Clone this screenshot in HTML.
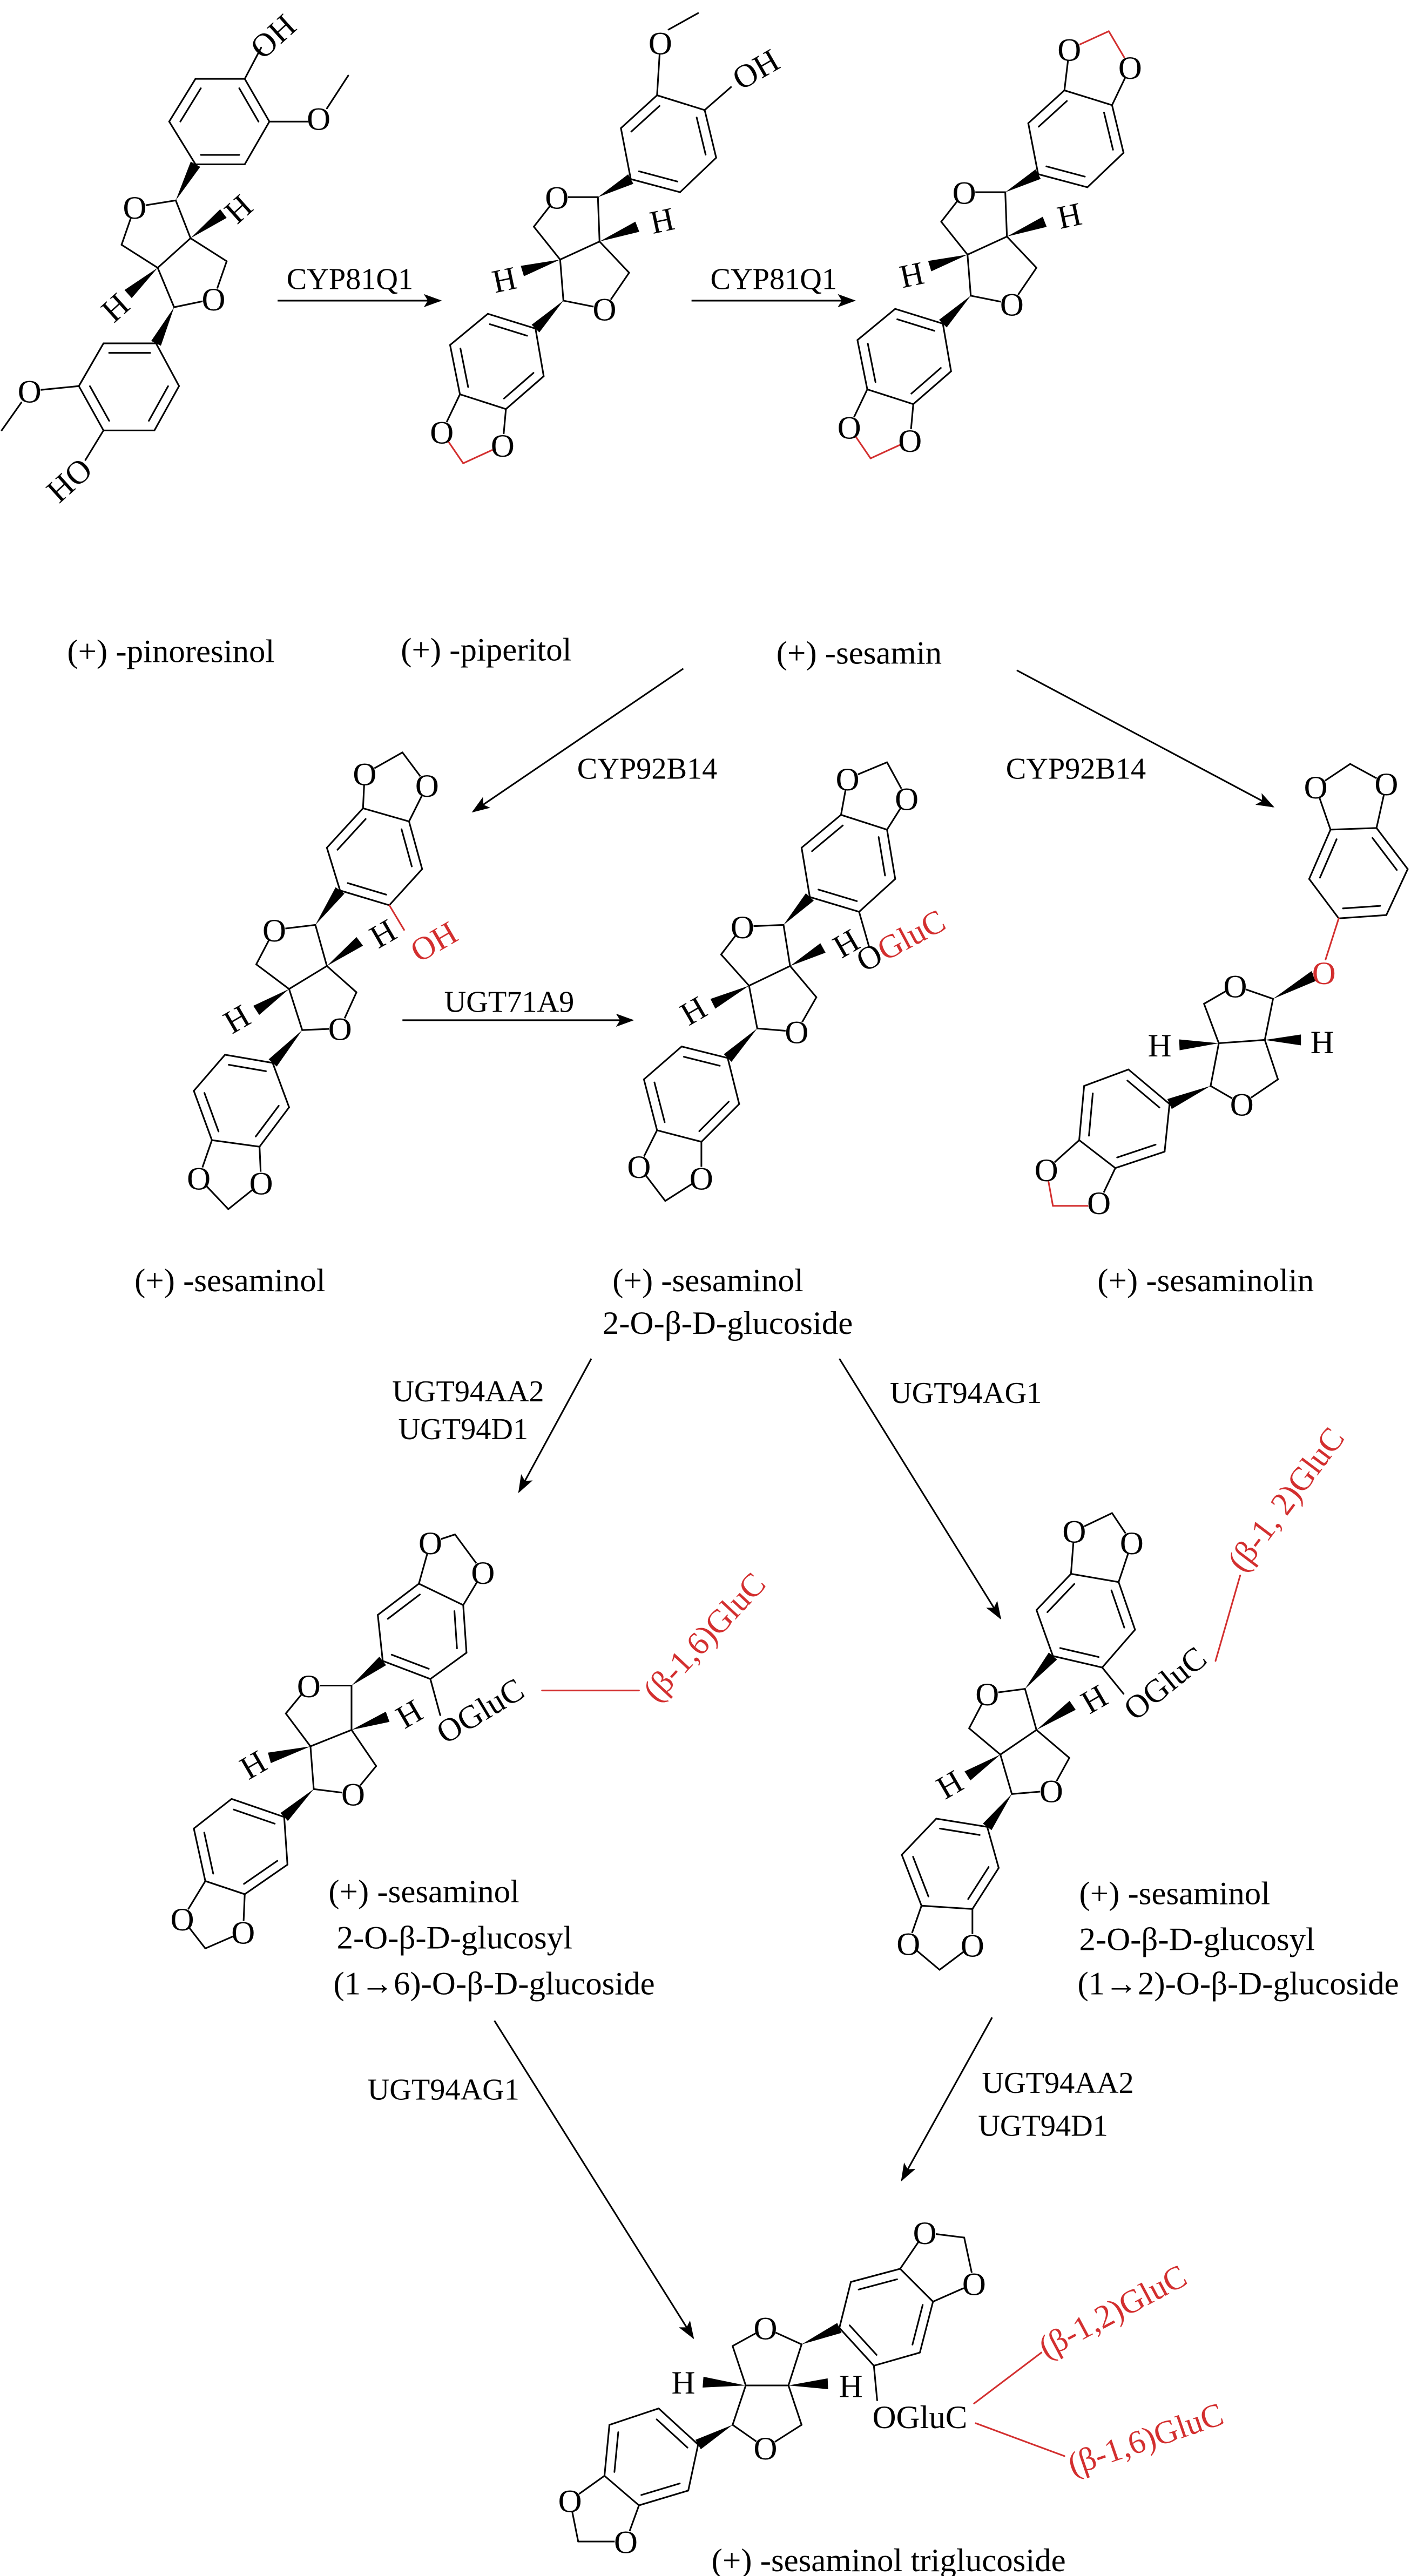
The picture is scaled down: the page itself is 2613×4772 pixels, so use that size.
<!DOCTYPE html>
<html><head><meta charset="utf-8">
<style>
html,body{margin:0;padding:0;background:#fff;}
svg{display:block;}
text{font-family:"Liberation Serif","DejaVu Serif",serif;font-size:20px;fill:#000;}
.at{text-anchor:middle;}
.enz{font-size:18.5px;text-anchor:middle;}
.lab{font-size:20px;text-anchor:middle;}
.red{fill:#d32f2f;}
</style></head>
<body>
<svg id="svg" xmlns="http://www.w3.org/2000/svg" width="2613" height="4772" viewBox="0 0 859 1568" preserveAspectRatio="none">
<defs>
<marker id="ah" markerUnits="userSpaceOnUse" markerWidth="12" markerHeight="10" refX="10" refY="4" orient="auto">
<path d="M0,0 L11,4 L0,8 L2.5,4 z" fill="#000"/>
</marker>
</defs>
<rect width="859" height="1568" fill="#fff"/>
<g id="shapes" stroke-linecap="round"></g>
<g id="arrows" stroke="#000" stroke-width="1" fill="none">
<line x1="169" y1="183" x2="268" y2="183" marker-end="url(#ah)"/>
<line x1="421" y1="183" x2="520" y2="183" marker-end="url(#ah)"/>
<line x1="416" y1="407" x2="288" y2="494" marker-end="url(#ah)"/>
<line x1="619" y1="408" x2="775" y2="491" marker-end="url(#ah)"/>
<line x1="245" y1="621" x2="385" y2="621" marker-end="url(#ah)"/>
<line x1="360" y1="827" x2="316" y2="908" marker-end="url(#ah)"/>
<line x1="511" y1="827" x2="609" y2="985" marker-end="url(#ah)"/>
<line x1="301" y1="1230" x2="422" y2="1423" marker-end="url(#ah)"/>
<line x1="604" y1="1228" x2="549" y2="1327" marker-end="url(#ah)"/>
</g>
<g id="texts">
<text class="enz" x="213" y="176">CYP81Q1</text>
<text class="enz" x="471" y="176">CYP81Q1</text>
<text class="enz" x="394" y="474">CYP92B14</text>
<text class="enz" x="655" y="474">CYP92B14</text>
<text class="enz" x="310" y="616">UGT71A9</text>
<text class="enz" x="285" y="853">UGT94AA2</text>
<text class="enz" x="282" y="876">UGT94D1</text>
<text class="enz" x="588" y="854">UGT94AG1</text>
<text class="enz" x="270" y="1278">UGT94AG1</text>
<text class="enz" x="644" y="1274">UGT94AA2</text>
<text class="enz" x="635" y="1300">UGT94D1</text>
<text class="lab" x="104" y="403">(+) -pinoresinol</text>
<text class="lab" x="296" y="402">(+) -piperitol</text>
<text class="lab" x="523" y="404">(+) -sesamin</text>
<text class="lab" x="140" y="786">(+) -sesaminol</text>
<text class="lab" x="431" y="786">(+) -sesaminol</text>
<text class="lab" x="443" y="812">2-O-β-D-glucoside</text>
<text class="lab" x="734" y="786">(+) -sesaminolin</text>
<text x="200" y="1158">(+) -sesaminol</text>
<text x="205" y="1186">2-O-β-D-glucosyl</text>
<text x="203" y="1214">(1→6)-O-β-D-glucoside</text>
<text x="657" y="1159">(+) -sesaminol</text>
<text x="657" y="1187">2-O-β-D-glucosyl</text>
<text x="656" y="1214">(1→2)-O-β-D-glucoside</text>
<text class="lab" x="541" y="1565">(+) -sesaminol triglucoside</text>

<text class="at" x="82" y="133">O</text>
<text class="at" x="130" y="189">O</text>
<text class="at" x="194" y="79">O</text>
<text class="at" x="18" y="245">O</text>
<text class="at" x="166" y="29" transform="rotate(-42 166 22)">OH</text>
<text class="at" x="42" y="299" transform="rotate(-42 42 292)">HO</text>
<text class="at" x="145" y="134" transform="rotate(-42 145 127)">H</text>
<text class="at" x="70" y="194" transform="rotate(-42 70 187)">H</text>

<text class="at" x="339" y="127">O</text>
<text class="at" x="368" y="195">O</text>
<text class="at" x="402" y="33">O</text>
<text class="at" x="269" y="270">O</text>
<text class="at" x="306" y="278">O</text>
<text class="at" x="460" y="49" transform="rotate(-30 460 42)">OH</text>
<text class="at" x="403" y="141" transform="rotate(-12 403 134)">H</text>
<text class="at" x="307" y="177" transform="rotate(-12 307 170)">H</text>

<text class="at" x="587" y="124">O</text>
<text class="at" x="616" y="192">O</text>
<text class="at" x="651" y="37">O</text>
<text class="at" x="688" y="48">O</text>
<text class="at" x="517" y="267">O</text>
<text class="at" x="554" y="275">O</text>
<text class="at" x="651" y="138" transform="rotate(-12 651 131)">H</text>
<text class="at" x="555" y="174" transform="rotate(-12 555 167)">H</text>

<text class="at" x="167" y="573">O</text>
<text class="at" x="207" y="633">O</text>
<text class="at" x="222" y="478">O</text>
<text class="at" x="260" y="485">O</text>
<text class="at" x="121" y="724">O</text>
<text class="at" x="159" y="727">O</text>
<text class="at" x="233" y="575" transform="rotate(-30 233 568)">H</text>
<text class="at" x="144" y="627" transform="rotate(-30 144 620)">H</text>
<text class="at red" x="264" y="580" transform="rotate(-30 264 573)">OH</text>

<text class="at" x="452" y="571">O</text>
<text class="at" x="485" y="635">O</text>
<text class="at" x="516" y="481">O</text>
<text class="at" x="552" y="493">O</text>
<text class="at" x="389" y="717">O</text>
<text class="at" x="427" y="724">O</text>
<text class="at" x="515" y="581" transform="rotate(-30 515 574)">H</text>
<text class="at" x="422" y="622" transform="rotate(-30 422 615)">H</text>
<text x="526" y="592" transform="rotate(-28 526 592)">O<tspan class="red">GluC</tspan></text>

<text class="at" x="752" y="607">O</text>
<text class="at" x="756" y="679">O</text>
<text class="at" x="801" y="486">O</text>
<text class="at" x="844" y="484">O</text>
<text class="at red" x="806" y="599">O</text>
<text class="at" x="637" y="719">O</text>
<text class="at" x="669" y="739">O</text>
<text class="at" x="706" y="643">H</text>
<text class="at" x="805" y="641">H</text>

<text class="at" x="188" y="1033">O</text>
<text class="at" x="215" y="1099">O</text>
<text class="at" x="262" y="946">O</text>
<text class="at" x="294" y="964">O</text>
<text class="at" x="111" y="1175">O</text>
<text class="at" x="148" y="1183">O</text>
<text class="at" x="249" y="1050" transform="rotate(-30 249 1043)">H</text>
<text class="at" x="154" y="1081" transform="rotate(-30 154 1074)">H</text>
<text x="271" y="1062" transform="rotate(-31 271 1062)">OGluC</text>
<text class="red" x="400" y="1037" transform="rotate(-47 400 1037)">(β-1,6)GluC</text>

<text class="at" x="601" y="1038">O</text>
<text class="at" x="640" y="1097">O</text>
<text class="at" x="654" y="939">O</text>
<text class="at" x="689" y="946">O</text>
<text class="at" x="553" y="1190">O</text>
<text class="at" x="592" y="1191">O</text>
<text class="at" x="666" y="1041" transform="rotate(-30 666 1034)">H</text>
<text class="at" x="578" y="1093" transform="rotate(-30 578 1086)">H</text>
<text x="691" y="1048" transform="rotate(-39 691 1048)">OGluC</text>
<text class="red" x="757" y="958" transform="rotate(-53 757 958)">(β-1, 2)GluC</text>

<text class="at" x="466" y="1424">O</text>
<text class="at" x="466" y="1497">O</text>
<text class="at" x="563" y="1366">O</text>
<text class="at" x="593" y="1397">O</text>
<text class="at" x="347" y="1529">O</text>
<text class="at" x="381" y="1554">O</text>
<text class="at" x="416" y="1457">H</text>
<text class="at" x="518" y="1459">H</text>
<text class="at" x="560" y="1478">OGluC</text>
<text class="red" x="637" y="1436" transform="rotate(-28 637 1436)">(β-1,2)GluC</text>
<text class="red" x="653" y="1507" transform="rotate(-19 653 1507)">(β-1,6)GluC</text>
</g>
</svg>
<script>
(function(){
var NS="http://www.w3.org/2000/svg";
var G=document.getElementById('shapes');
var RED="#d32f2f";
function el(n,a){var e=document.createElementNS(NS,n);for(var k in a)e.setAttribute(k,a[k]);G.appendChild(e);return e;}
function L(x1,y1,x2,y2,c){el('line',{x1:x1,y1:y1,x2:x2,y2:y2,stroke:c||'#000','stroke-width':1});}
function W(a,b){var dx=b[0]-a[0],dy=b[1]-a[1],l=Math.sqrt(dx*dx+dy*dy)||1;var px=-dy/l*3.3,py=dx/l*3.3;
 el('polygon',{points:a[0]+','+a[1]+' '+(b[0]+px)+','+(b[1]+py)+' '+(b[0]-px)+','+(b[1]-py),fill:'#000'});}
function ring(p,d,dx,dy){dx=dx||0;dy=dy||0;var q=p.map(function(v){return [v[0]+dx,v[1]+dy];});
 var cx=0,cy=0;q.forEach(function(v){cx+=v[0];cy+=v[1];});cx/=6;cy/=6;
 for(var i=0;i<6;i++){var a=q[i],b=q[(i+1)%6];L(a[0],a[1],b[0],b[1]);}
 d.forEach(function(i){var a=q[i],b=q[(i+1)%6],f=0.78;
  L(cx+(a[0]-cx)*f,cy+(a[1]-cy)*f,cx+(b[0]-cx)*f,cy+(b[1]-cy)*f);});
 return q;}
function mol(m,dx,dy){dx=dx||0;dy=dy||0;function s(p){return [p[0]+dx,p[1]+dy];}
 var A=ring(m.A,m.Ad,dx,dy),B=ring(m.B,m.Bd,dx,dy);
 var C1=s(m.C1),Ot=s(m.Ot),Ct=s(m.CH2t),C3a=s(m.C3a),C6a=s(m.C6a),Cb=s(m.CH2b),Ob=s(m.Ob),C4=s(m.C4);
 [[C1,Ot],[Ot,Ct],[Ct,C3a],[C3a,C6a],[C6a,C1],[C6a,Cb],[Cb,Ob],[Ob,C4],[C4,C3a]].forEach(function(b){L(b[0][0],b[0][1],b[1][0],b[1][1]);});
 if(m.ai!=null)W(C1,A[m.ai]);
 W(C4,B[m.bi]);W(C6a,s(m.H1));W(C3a,s(m.H2));}
function ex(list){list.forEach(function(e){L(e[0],e[1],e[2],e[3],e[4]?RED:'#000');});}

mol({A:[[119,48],[149,48],[164,74],[149,100],[119,100],[103,74]],Ad:[5,1,3],ai:4,
 B:[[63,209],[95,209],[109,235],[94,262],[63,262],[48,235]],Bd:[0,2,4],bi:1,
 C1:[107,122],Ot:[82,126],CH2t:[74,149],C3a:[96,163],C6a:[116,145],CH2b:[138,159],Ob:[130,182],C4:[106,187],H1:[136,130],H2:[78,179]});
ex([[149,48,159,29],[164,74,194,74],[199,66,212,46],[48,235,18,238],[13,245,1,262],[63,262,52,280]]);

var PP={A:[[400,58],[429,67],[436,96],[414,117],[384,109],[378,78]],Ad:[5,1,3],ai:4,
 B:[[326,200],[297,191],[274,210],[280,240],[308,249],[331,229]],Bd:[0,2,4],bi:0,
 C1:[364,120],Ot:[339,120],CH2t:[325,138],C3a:[341,158],C6a:[365,147],CH2b:[383,166],Ob:[368,188],C4:[343,183],H1:[388,138],H2:[318,165]};
mol(PP);
ex([[400,58,402,26],[407,18,425,8],[429,67,445,53],[280,240,269,263],[269,263,282,282,1],[282,282,306,271,1],[306,271,308,249]]);
mol(PP,248,-3);
ex([[648,55,651,30],[677,64,688,41],[651,30,675,19,1],[675,19,688,41,1],
 [528,237,517,260],[517,260,530,279,1],[530,279,554,268,1],[554,268,556,246]]);

mol({A:[[221,492],[249,500],[257,529],[237,551],[207,542],[199,516]],Ad:[5,1,3],ai:4,
 B:[[166,647],[137,642],[118,664],[129,694],[158,698],[176,674]],Bd:[0,2,4],bi:0,
 C1:[192,563],Ot:[167,566],CH2t:[156,587],C3a:[176,602],C6a:[199,588],CH2b:[217,604],Ob:[207,626],C4:[184,627],H1:[219,573],H2:[156,615]});
ex([[221,492,222,471],[222,471,245,458],[245,458,260,478],[260,478,249,500],
 [129,694,121,717],[121,717,139,736],[139,736,159,720],[159,720,158,698],[237,551,246,566,1]]);

mol({A:[[512,496],[540,505],[545,535],[523,555],[493,546],[488,516]],Ad:[5,1,3],ai:4,
 B:[[443,644],[415,637],[392,657],[400,688],[427,695],[450,672]],Bd:[0,2,4],bi:0,
 C1:[477,563],Ot:[452,564],CH2t:[439,581],C3a:[456,600],C6a:[481,588],CH2b:[497,607],Ob:[485,628],C4:[461,626],H1:[501,577],H2:[434,611]});
ex([[512,496,516,474],[516,474,540,464],[540,464,552,486],[552,486,540,505],
 [400,688,389,710],[389,710,405,731],[405,731,427,717],[427,717,427,695],[523,555,529,576]]);

mol({A:[[810,505],[838,504],[857,529],[844,557],[815,559],[797,535]],Ad:[5,1,3],ai:null,
 B:[[712,672],[687,651],[660,661],[657,694],[679,711],[709,701]],Bd:[0,2,4],bi:0,
 C1:[775,608],Ot:[752,600],CH2t:[733,611],C3a:[742,635],C6a:[770,633],CH2b:[778,657],Ob:[756,672],C4:[737,661],H1:[792,633],H2:[718,636]});
W([775,608],[800,594]);
ex([[810,505,801,479],[801,479,822,465],[822,465,844,477],[844,477,838,504],[815,559,807,584,1],
 [657,694,637,712],[637,712,641,734,1],[641,734,666,734,1],[669,732,679,711]]);

mol({A:[[255,964],[282,977],[284,1006],[262,1022],[233,1011],[230,983]],Ad:[5,1,3],ai:4,
 B:[[173,1106],[141,1095],[118,1113],[125,1145],[149,1153],[175,1135]],Bd:[0,2,4],bi:0,
 C1:[214,1026],Ot:[188,1026],CH2t:[174,1043],C3a:[189,1063],C6a:[214,1053],CH2b:[229,1075],Ob:[215,1092],C4:[191,1089],H1:[236,1045],H2:[164,1070]});
ex([[255,964,262,939],[262,939,277,934],[277,934,294,957],[294,957,282,977],
 [125,1145,111,1168],[111,1168,125,1186],[125,1186,148,1176],[148,1176,149,1153],[262,1022,268,1044],[330,1029,389,1029,1]]);

mol({A:[[652,958],[681,963],[691,992],[671,1015],[641,1008],[631,980]],Ad:[5,1,3],ai:4,
 B:[[601,1112],[570,1107],[549,1129],[561,1160],[592,1162],[608,1137]],Bd:[0,2,4],bi:0,
 C1:[624,1028],Ot:[601,1031],CH2t:[590,1052],C3a:[609,1068],C6a:[631,1053],CH2b:[651,1070],Ob:[640,1090],C4:[616,1092],H1:[653,1038],H2:[589,1081]});
ex([[652,958,654,932],[654,932,677,921],[677,921,689,939],[689,939,681,963],
 [561,1160,553,1183],[553,1183,572,1199],[572,1199,592,1184],[592,1184,592,1162],[671,1015,684,1031],[740,1011,755,959,1]]);

mol({A:[[548,1381],[568,1401],[560,1432],[532,1440],[511,1417],[518,1389]],Ad:[5,1,3],ai:4,
 B:[[425,1488],[401,1466],[371,1476],[368,1507],[389,1525],[419,1516]],Bd:[0,2,4],bi:0,
 C1:[488,1427],Ot:[466,1417],CH2t:[446,1428],C3a:[454,1452],C6a:[480,1452],CH2b:[488,1476],Ob:[466,1490],C4:[446,1476],H1:[504,1451],H2:[428,1450]});
ex([[548,1381,563,1359],[563,1359,587,1362],[587,1362,593,1390],[593,1390,568,1401],
 [368,1507,347,1522],[347,1522,352,1547],[352,1547,381,1547],[381,1547,389,1525],[532,1440,534,1461],
 [593,1463,634,1432,1],[594,1475,648,1495,1]]);

var ats=document.querySelectorAll('#texts text.at');
for(var i=0;i<ats.length;i++){var t=ats[i];var x=+t.getAttribute('x'),y=+t.getAttribute('y');
 var w=t.textContent.length>1?9:6.8;
 if(t.textContent.length>1){el('ellipse',{cx:x,cy:y-7,rx:w+3,ry:7.5,fill:'#fff'});}
 else el('circle',{cx:x,cy:y-7,r:w,fill:'#fff'});}
})();
</script>
</body></html>
